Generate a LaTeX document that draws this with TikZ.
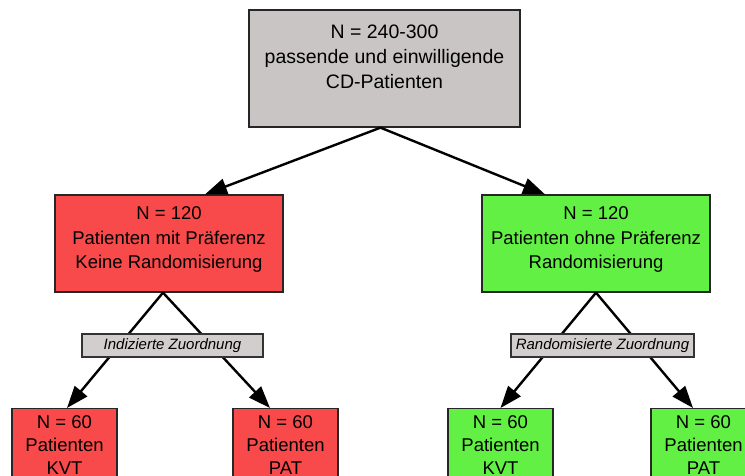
\documentclass[tikz,border=0pt]{standalone}
\usepackage{fontspec}
\setmainfont{Liberation Sans}
\usetikzlibrary{arrows.meta}
\definecolor{boxgray}{HTML}{C9C5C5}
\definecolor{boxred}{HTML}{F84A4A}
\definecolor{boxgreen}{HTML}{62F044}
\definecolor{labgray}{HTML}{D2CECE}
\begin{document}
\begin{tikzpicture}[x=1pt,y=-1pt,
  box/.style={draw=black!85, line width=1.3pt, align=center, inner sep=0pt},
  midbox/.style={box, minimum width=228pt, minimum height=97pt, text depth=11pt, font=\fontsize{18.5}{24.5}\selectfont},
  leafbox/.style={box, anchor=north, minimum width=105pt, inner ysep=7pt, font=\fontsize{18.5}{23}\selectfont},
  lab/.style={draw=black!80, line width=1.2pt, fill=labgray, minimum height=23pt, inner sep=0pt, font=\fontsize{15}{18}\selectfont\itshape},
  arr/.style={line width=2.4pt, -{Triangle[length=22pt,width=16pt]}},
  ln/.style={line width=2.4pt}]
\useasboundingbox (0,0) rectangle (745,475);
\node[box, fill=boxgray, minimum width=271pt, minimum height=117pt, text depth=23pt, font=\fontsize{19.5}{25}\selectfont] (top) at (384.5,68.5) {N = 240-300\\passende und einwilligende\\CD-Patienten};
\node[midbox, fill=boxred] (red) at (169,243.5) {N = 120\\Patienten mit Präferenz\\Keine Randomisierung};
\node[midbox, fill=boxgreen] (green) at (596,243.5) {N = 120\\Patienten ohne Präferenz\\Randomisierung};
\node[leafbox, fill=boxred] (r1) at (64.5,408) {N = 60\\Patienten\\KVT};
\node[leafbox, fill=boxred] (r2) at (285.5,408) {N = 60\\Patienten\\PAT};
\node[leafbox, fill=boxgreen] (g1) at (500.5,408) {N = 60\\Patienten\\KVT};
\node[leafbox, fill=boxgreen] (g2) at (703.5,408) {N = 60\\Patienten\\PAT};
\draw[arr] ([xshift=-4pt]top.south) -- ([xshift=36pt]red.north);
\draw[arr] ([xshift=-4pt]top.south) -- ([xshift=-51pt]green.north);
\draw[arr] ([xshift=-6pt]red.south) -- ([xshift=2.5pt]r1.north);
\draw[arr] ([xshift=-6pt]red.south) -- ([xshift=-15.5pt]r2.north);
\draw[arr] (green.south) -- (g1.north);
\draw[arr] (green.south) -- ([xshift=-10.5pt]g2.north);
\node[lab, minimum width=181pt] (l1) at (172.5,345.5) {Indizierte Zuordnung};
\node[lab, minimum width=183pt] (l2) at (602.5,345.5) {Randomisierte Zuordnung};
\end{tikzpicture}
\end{document}
